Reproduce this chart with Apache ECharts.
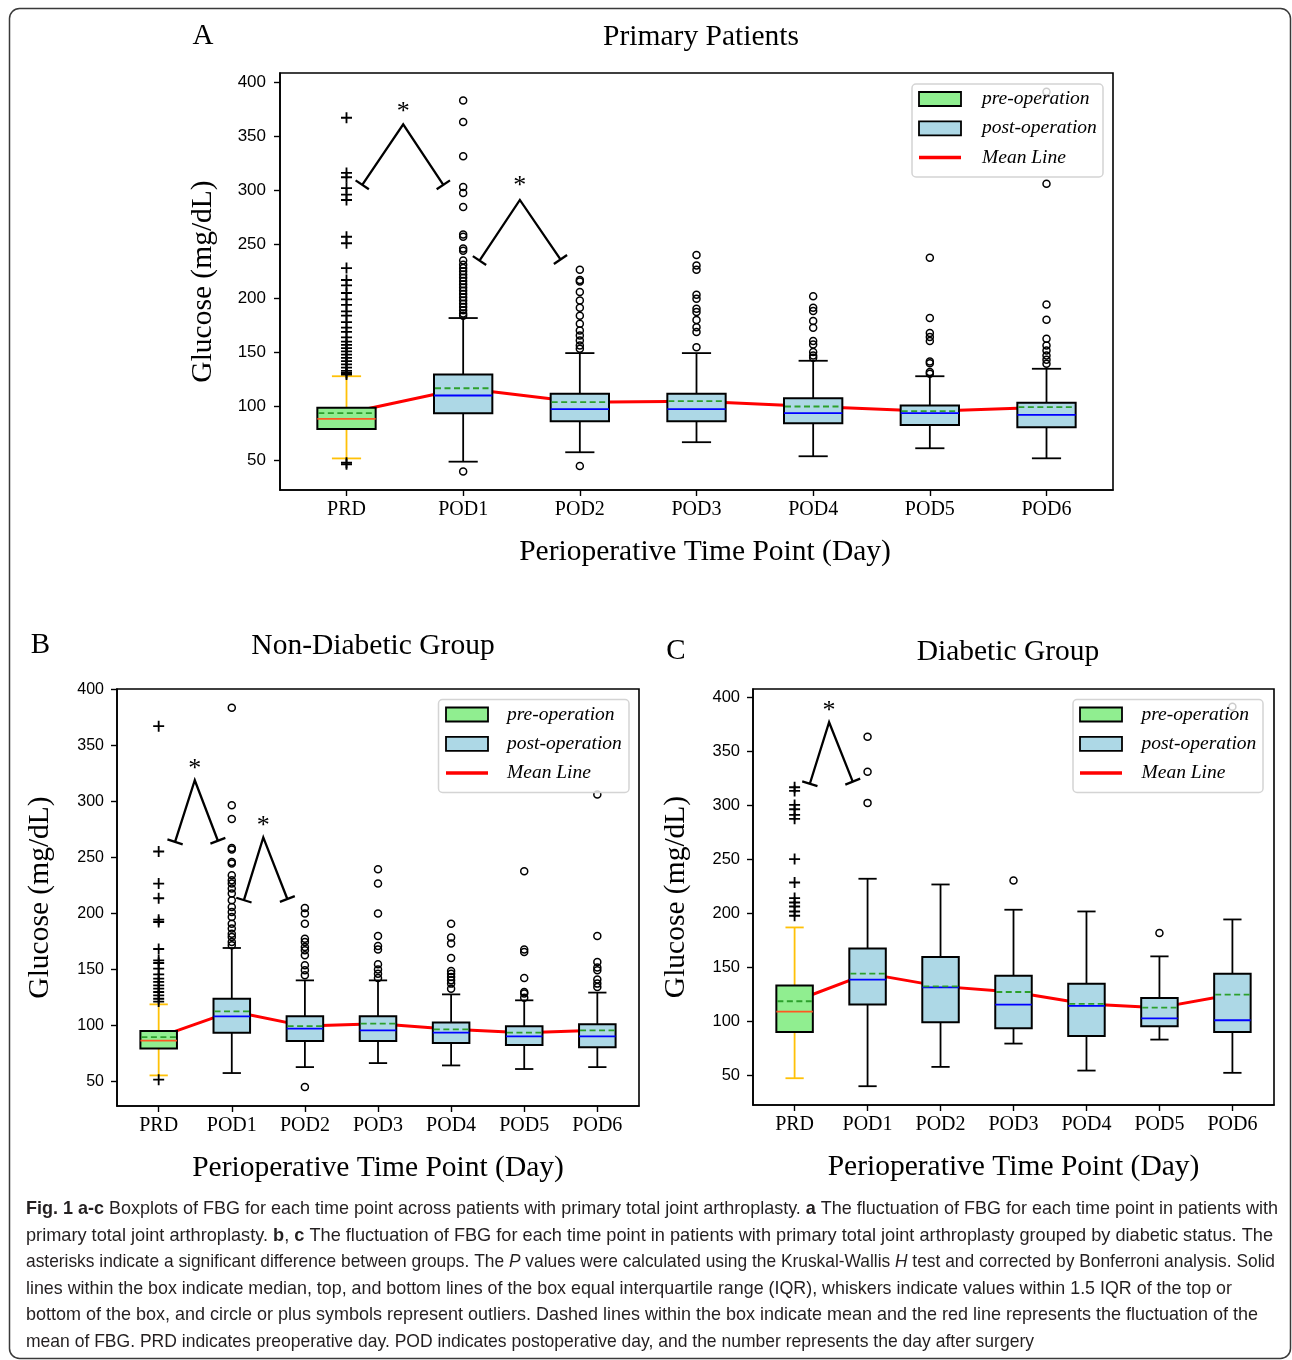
<!DOCTYPE html>
<html>
<head>
<meta charset="utf-8">
<script src="https://cdn.jsdelivr.net/npm/echarts@6/dist/echarts.min.js"></script>
<style>
  html, body { margin: 0; padding: 0; background: #fff; }
  #chart { width: 1292px; height: 1360px; }
</style>
</head>
<body>
<div id="chart"></div>
<script>
const categories = ['PRD', 'POD1', 'POD2', 'POD3', 'POD4', 'POD5', 'POD6'];
const yTicks = [50, 100, 150, 200, 250, 300, 350, 400];

// A - primary patients
const aLow  = [52, 49, 57.7, 67, 54, 61.4, 52.1];
const aQ1   = [79.3, 93.8, 86.4, 86.4, 84.5, 83, 80.9];
const aMed  = [88.6, 110.2, 97.5, 97.5, 93.8, 93.8, 92.3];
const aQ3   = [98.8, 129.6, 111.7, 111.7, 107.7, 101, 103.4];
const aHigh = [128, 181.8, 149.4, 149.4, 142.3, 128, 134.9];
const aMean = [93.8, 116.9, 104, 104.9, 100, 95.7, 99.4];
const aOutliers = [
  [367, 316, 312, 302, 296, 291, 257, 251, 228, 217, 212, 205, 199, 194, 188, 184, 178, 173, 169, 164, 160, 157, 154, 151, 148, 145, 142, 139, 136, 133, 131, 129.5, 48, 46.5],
  [383, 363, 331.5, 303, 297.5, 284.5, 259, 257, 246, 244, 235, 231, 228, 225, 222, 219, 216, 213, 210, 207, 204, 201, 198, 195, 192, 189, 186, 184, 39.8],
  [226.5, 217, 215.5, 206, 198, 191.3, 184, 176.5, 170.4, 165.7, 161, 156.5, 153.4, 45],
  [240, 230.5, 226.5, 203.4, 199.7, 190.4, 187.3, 180, 173.4, 168.8, 154.9],
  [202, 191.3, 188.3, 179, 172.8, 160.5, 157.4, 150.3, 147.2, 145],
  [237.6, 181.8, 167.9, 164.2, 160.5, 141.7, 140, 131.8, 130.2],
  [391, 306, 194.4, 180.2, 162.7, 156.5, 151.8, 147.2, 143.2, 139.5]
];
// [x1, y1, xPeak, yPeak, x2, y2, yStar]
const aBrackets = [[1.135, 305, 1.486, 361, 1.83, 305, 376], [2.14, 235, 2.486, 291, 2.834, 236, 307]];

// B - non-diabetic group
const bLow  = [55.6, 57.7, 63, 66.6, 64.5, 61.3, 63];
const bQ1   = [79.5, 93.7, 86.3, 86.3, 84.5, 82.7, 80.7];
const bMed  = [86.6, 108.3, 97.3, 95.8, 93.7, 90.4, 90.4];
const bQ3   = [95.2, 124.1, 108.3, 108.3, 102.7, 99.4, 101.2];
const bHigh = [119, 169.3, 140.4, 140.4, 127.9, 122.6, 129.5];
const bMean = [89.8, 112.8, 99.6, 101.8, 96.7, 93.7, 95.8];
const bOutliers = [
  [367.2, 255.4, 226.8, 213.7, 194.6, 192.5, 168.4, 158.3, 155.9, 150.9, 145.8, 142, 139, 136, 133, 130, 127, 124, 121.5, 51.8],
  [383.6, 296.7, 284.5, 258.6, 257.1, 246, 244.6, 234.2, 229.7, 226.8, 222.3, 217.9, 211.9, 205.9, 201.4, 197, 191, 186.6, 182.1, 179.1, 174.6, 171.7],
  [205, 200, 191, 177.6, 174.6, 170.2, 167.2, 162.8, 153.8, 149.4, 144.9, 45.2],
  [239.6, 226.8, 200, 180, 171.1, 167.9, 154.7, 150, 146.4, 142.5],
  [191, 178.6, 173.2, 160.4, 148.8, 146.4, 143.4, 140.4, 137.5, 133],
  [237.8, 167.9, 165.7, 142.5, 130, 128.6, 125],
  [306.3, 180, 156.8, 151.8, 149.4, 141.1, 137.5, 134.5]
];
const bBrackets = [[1.224, 264, 1.494, 319, 1.81, 265, 332], [2.166, 212, 2.431, 268, 2.76, 213, 282]];

// C - diabetic group
const cLow  = [47.2, 39.8, 57.7, 79.3, 54.3, 83, 52.2];
const cQ1   = [90.1, 115.4, 99, 93.5, 86.4, 95.3, 90.1];
const cMed  = [108.9, 138.5, 131.4, 115.4, 114.2, 102.7, 100.9];
const cQ3   = [133, 167.5, 159.5, 142.2, 134.8, 121.6, 144.1];
const cHigh = [186.9, 232, 226.7, 203.3, 201.7, 160.1, 194.3];
const cMean = [118.5, 144.1, 132.3, 127.1, 116, 112.6, 124.7];
const cOutliers = [
  [316.8, 313.4, 300.4, 296.4, 291.2, 287.5, 250.2, 228.5, 214.1, 210, 206.3, 201.7, 197.7],
  [363.6, 331.2, 302.3],
  [],
  [230.4],
  [],
  [181.7],
  [391.4]
];
const cBrackets = [[1.209, 320, 1.473, 377, 1.797, 322, 391]];

const panels = [
  { title: 'Primary Patients', letter: 'A', low: aLow, q1: aQ1, med: aMed, q3: aQ3, high: aHigh, mean: aMean, out: aOutliers, brackets: aBrackets },
  { title: 'Non-Diabetic Group', letter: 'B', low: bLow, q1: bQ1, med: bMed, q3: bQ3, high: bHigh, mean: bMean, out: bOutliers, brackets: bBrackets },
  { title: 'Diabetic Group', letter: 'C', low: cLow, q1: cQ1, med: cMed, q3: cQ3, high: cHigh, mean: cMean, out: cOutliers, brackets: cBrackets }
];

// layout (pixels)
const layout = [
  { grid: { left: 280, top: 73, width: 833, height: 417 }, yMin: 22.8, yMax: 408.4, yLabelSize: 17, yLabelMargin: 14, xNameShift: 17,
    titleXY: [701, 37], letterXY: [203, 36.5], legend: { x: 912, y: 84, w: 191, h: 93, sx: 919, tx: 982 } },
  { grid: { left: 117, top: 689, width: 522, height: 417 }, yMin: 28.3, yMax: 400.4, yLabelSize: 16, yLabelMargin: 13, xNameShift: 0,
    titleXY: [373, 646], letterXY: [40.5, 645], legend: { x: 438.5, y: 699.5, w: 190.5, h: 93, sx: 446, tx: 507 } },
  { grid: { left: 753, top: 689, width: 521, height: 416 }, yMin: 22.4, yMax: 407.8, yLabelSize: 16.5, yLabelMargin: 13, xNameShift: 0,
    titleXY: [1008, 652], letterXY: [676, 651.5], legend: { x: 1073, y: 699.5, w: 190, h: 93, sx: 1080, tx: 1141.5 } }
];
const capLeft = 26;
const capTop = 1209;
const capStep = 26.6;
const capRight = [1278, 1273, 1275, 1232, 1258, 1034];

const SERIF = '"Liberation Serif", "Times New Roman", serif';
const SANS = '"Liberation Sans", Arial, sans-serif';
const PRE = { fill: '#90ee90', median: '#ff5722', whisker: '#ffc107' };
const POST = { fill: '#add8e6', median: '#0000ff', whisker: '#000000' };
const PLUS = 'path://M5,0h2v5h5v2h-5v5h-2v-5h-5v-2h5z';

function boxRender(look) {
  return function (params, api) {
    const c = api.value(0);
    const lo = api.coord([c, api.value(1)]);
    const q1 = api.coord([c, api.value(2)]);
    const md = api.coord([c, api.value(3)]);
    const q3 = api.coord([c, api.value(4)]);
    const hi = api.coord([c, api.value(5)]);
    const mn = api.coord([c, api.value(6)]);
    const bw = api.size([0.5, 0])[0];
    const cw = api.size([0.25, 0])[0];
    const x = lo[0];
    const wStyle = { stroke: look.whisker, lineWidth: 1.8 };
    return {
      type: 'group',
      children: [
        { type: 'line', shape: { x1: x, y1: q1[1], x2: x, y2: lo[1] }, style: wStyle },
        { type: 'line', shape: { x1: x, y1: q3[1], x2: x, y2: hi[1] }, style: wStyle },
        { type: 'line', shape: { x1: x - cw / 2, y1: lo[1], x2: x + cw / 2, y2: lo[1] }, style: wStyle },
        { type: 'line', shape: { x1: x - cw / 2, y1: hi[1], x2: x + cw / 2, y2: hi[1] }, style: wStyle },
        { type: 'rect', shape: { x: x - bw / 2, y: q3[1], width: bw, height: q1[1] - q3[1] },
          style: { fill: look.fill, stroke: '#000', lineWidth: 2 } },
        { type: 'line', shape: { x1: x - bw / 2, y1: md[1], x2: x + bw / 2, y2: md[1] },
          style: { stroke: look.median, lineWidth: 1.8 } },
        { type: 'line', shape: { x1: x - bw / 2 + 1, y1: mn[1], x2: x + bw / 2 - 1, y2: mn[1] },
          style: { stroke: '#2ca02c', lineWidth: 1.8, lineDash: [6, 3.5] } }
      ]
    };
  };
}

function bracketRender(params, api) {
  const p1 = api.coord([api.value(0), api.value(1)]);
  const pk = api.coord([api.value(2), api.value(3)]);
  const p2 = api.coord([api.value(4), api.value(5)]);
  const st = api.coord([api.value(2), api.value(6)]);
  const cap = (p, q) => {
    const dx = p[0] - q[0], dy = p[1] - q[1];
    const L = Math.hypot(dx, dy);
    const nx = -dy / L * 8, ny = dx / L * 8;
    return { type: 'line', shape: { x1: p[0] - nx, y1: p[1] - ny, x2: p[0] + nx, y2: p[1] + ny },
      style: { stroke: '#000', lineWidth: 2.3 } };
  };
  return {
    type: 'group',
    children: [
      { type: 'polyline', shape: { points: [p1, pk, p2] }, style: { stroke: '#000', lineWidth: 2.3, fill: 'none' } },
      cap(p1, pk), cap(p2, pk),
      { type: 'text', x: st[0], y: st[1] + 4,
        style: { text: '*', fontFamily: SERIF, fontSize: 26, fill: '#000', align: 'center', verticalAlign: 'middle' } }
    ]
  };
}

function panelSeries(p, i) {
  const pos = categories.map((_, k) => k + 1);
  const boxRow = k => [pos[k], p.low[k], p.q1[k], p.med[k], p.q3[k], p.high[k], p.mean[k]];
  const outPts = ks => ks.flatMap(k => p.out[k].map(v => [pos[k], v]));
  const post = [1, 2, 3, 4, 5, 6];
  const common = { xAxisIndex: i, yAxisIndex: i, silent: true };
  return [
    Object.assign({ type: 'line', name: 'Mean Line', data: pos.map((x, k) => [x, p.mean[k]]), symbol: 'none',
      lineStyle: { color: '#ff0000', width: 3 }, z: 1 }, common),
    Object.assign({ type: 'custom', name: 'pre-operation', data: [boxRow(0)], renderItem: boxRender(PRE), z: 3 }, common),
    Object.assign({ type: 'custom', name: 'post-operation', data: post.map(boxRow), renderItem: boxRender(POST), z: 3 }, common),
    Object.assign({ type: 'scatter', data: outPts([0]), symbol: PLUS, symbolSize: 11,
      itemStyle: { color: '#000', opacity: 1 }, z: 4 }, common),
    Object.assign({ type: 'scatter', data: outPts(post), symbol: 'circle', symbolSize: 7,
      itemStyle: { color: 'rgba(0,0,0,0)', borderColor: '#000', borderWidth: 1.5, opacity: 1 }, z: 4 }, common),
    Object.assign({ type: 'custom', data: p.brackets, renderItem: bracketRender, z: 5 }, common)
  ];
}

function legendEls(L) {
  const rows = [L.y + 15, L.y + 44.3, L.y + 73.4];
  const txt = (t, y) => ({ type: 'text', z: 101, x: L.tx, y: y,
    style: { text: t, fontFamily: SERIF, fontStyle: 'italic', fontSize: 19.5, fill: '#000', align: 'left', verticalAlign: 'middle' } });
  return [
    { type: 'rect', z: 100, shape: { x: L.x, y: L.y, width: L.w, height: L.h, r: 4 },
      style: { fill: 'rgba(255,255,255,0.8)', stroke: '#d4d4d4', lineWidth: 1.5 } },
    { type: 'rect', z: 101, shape: { x: L.sx, y: rows[0] - 7, width: 42, height: 14 },
      style: { fill: PRE.fill, stroke: '#000', lineWidth: 1.8 } },
    { type: 'rect', z: 101, shape: { x: L.sx, y: rows[1] - 7, width: 42, height: 14 },
      style: { fill: POST.fill, stroke: '#000', lineWidth: 1.8 } },
    { type: 'line', z: 101, shape: { x1: L.sx, y1: rows[2], x2: L.sx + 42, y2: rows[2] },
      style: { stroke: '#ff0000', lineWidth: 3.5 } },
    txt('pre-operation', rows[0]), txt('post-operation', rows[1]), txt('Mean Line', rows[2])
  ];
}

// caption
const captionLines = [
  [['Fig. 1 a-c', 'b'], [' Boxplots of FBG for each time point across patients with primary total joint arthroplasty. ', 'n'], ['a', 'b'], [' The fluctuation of FBG for each time point in patients with', 'n']],
  [['primary total joint arthroplasty. ', 'n'], ['b', 'b'], [', ', 'n'], ['c', 'b'], [' The fluctuation of FBG for each time point in patients with primary total joint arthroplasty grouped by diabetic status. The', 'n']],
  [['asterisks indicate a significant difference between groups. The ', 'n'], ['P', 'i'], [' values were calculated using the Kruskal-Wallis ', 'n'], ['H', 'i'], [' test and corrected by Bonferroni analysis. Solid', 'n']],
  [['lines within the box indicate median, top, and bottom lines of the box equal interquartile range (IQR), whiskers indicate values within 1.5 IQR of the top or', 'n']],
  [['bottom of the box, and circle or plus symbols represent outliers. Dashed lines within the box indicate mean and the red line represents the fluctuation of the', 'n']],
  [['mean of FBG. PRD indicates preoperative day. POD indicates postoperative day, and the number represents the day after surgery', 'n']]
];
const CAP_FONT = '"Liberation Sans Narrow", "Liberation Sans", Arial, sans-serif';
const CAP_SIZE = 18.5;
const measureCtx = document.createElement('canvas').getContext('2d');
function segWidth(t, k) {
  measureCtx.font = (k === 'b' ? 'bold ' : k === 'i' ? 'italic ' : '') + CAP_SIZE + 'px ' + CAP_FONT;
  return measureCtx.measureText(t).width;
}
const capRich = {
  n: { fontFamily: CAP_FONT, fontSize: CAP_SIZE, fill: '#231f20' },
  b: { fontFamily: CAP_FONT, fontSize: CAP_SIZE, fontWeight: 'bold', fill: '#231f20' },
  i: { fontFamily: CAP_FONT, fontSize: CAP_SIZE, fontStyle: 'italic', fill: '#231f20' }
};

const graphics = [
  { type: 'rect', z: 0, shape: { x: 9.5, y: 8.5, width: 1281, height: 1350, r: 10 },
    style: { fill: 'none', stroke: '#3a3a3a', lineWidth: 1.5 } }
];
panels.forEach((p, i) => {
  const L = layout[i];
  graphics.push({ type: 'text', x: L.titleXY[0], y: L.titleXY[1],
    style: { text: p.title, fontFamily: SERIF, fontSize: 29.5, fill: '#000', align: 'center', verticalAlign: 'middle' } });
  graphics.push({ type: 'text', x: L.letterXY[0], y: L.letterXY[1],
    style: { text: p.letter, fontFamily: SERIF, fontSize: 29, fill: '#000', align: 'center', verticalAlign: 'middle' } });
  legendEls(L.legend).forEach(el => graphics.push(el));
});
captionLines.forEach((line, j) => {
  const w = line.reduce((s, seg) => s + segWidth(seg[0], seg[1]), 0);
  graphics.push({ type: 'text', x: capLeft, y: capTop + j * capStep, scaleX: (capRight[j] - capLeft) / w, originX: 0, originY: 0,
    style: { text: line.map(([t, k]) => '{' + k + '|' + t + '}').join(''), rich: capRich, align: 'left', verticalAlign: 'middle' } });
});

const xTickValues = categories.map((_, k) => k + 1);
const option = {
  animation: false,
  backgroundColor: '#ffffff',
  grid: layout.map(L => Object.assign({ show: true, borderColor: '#000', borderWidth: 1.6, backgroundColor: 'rgba(0,0,0,0)', containLabel: false }, L.grid)),
  xAxis: layout.map((L, i) => ({
    type: 'value', gridIndex: i, min: 0.43, max: 7.57,
    axisLine: { show: true, onZero: false, lineStyle: { color: '#000', width: 1.6 } },
    axisTick: { show: true, customValues: xTickValues, length: 6, lineStyle: { color: '#000', width: 1.4 } },
    axisLabel: { customValues: xTickValues, formatter: v => categories[Math.round(v) - 1], fontFamily: SERIF, fontSize: 20, color: '#000', margin: 10 },
    splitLine: { show: false },
    name: 'Perioperative Time Point (Day)', nameLocation: 'middle', nameGap: 47,
    nameTextStyle: { fontFamily: SERIF, fontSize: 29.5, color: '#000', padding: [0, 0, 0, L.xNameShift] }
  })),
  yAxis: layout.map((L, i) => ({
    type: 'value', gridIndex: i, min: L.yMin, max: L.yMax,
    axisLine: { show: true, onZero: false, lineStyle: { color: '#000', width: 1.6 } },
    axisTick: { show: true, customValues: yTicks, length: 6, lineStyle: { color: '#000', width: 1.4 } },
    axisLabel: { customValues: yTicks, fontFamily: SANS, fontSize: L.yLabelSize, color: '#000', margin: L.yLabelMargin },
    splitLine: { show: false },
    name: 'Glucose (mg/dL)', nameLocation: 'middle', nameGap: 62,
    nameTextStyle: { fontFamily: SERIF, fontSize: 29.5, color: '#000' }
  })),
  series: panels.flatMap((p, i) => panelSeries(p, i)),
  graphic: { elements: graphics }
};

const chart = echarts.init(document.getElementById('chart'), null, { renderer: 'canvas' });
chart.setOption(option);
window.addEventListener('resize', () => chart.resize());
</script>
</body>
</html>
